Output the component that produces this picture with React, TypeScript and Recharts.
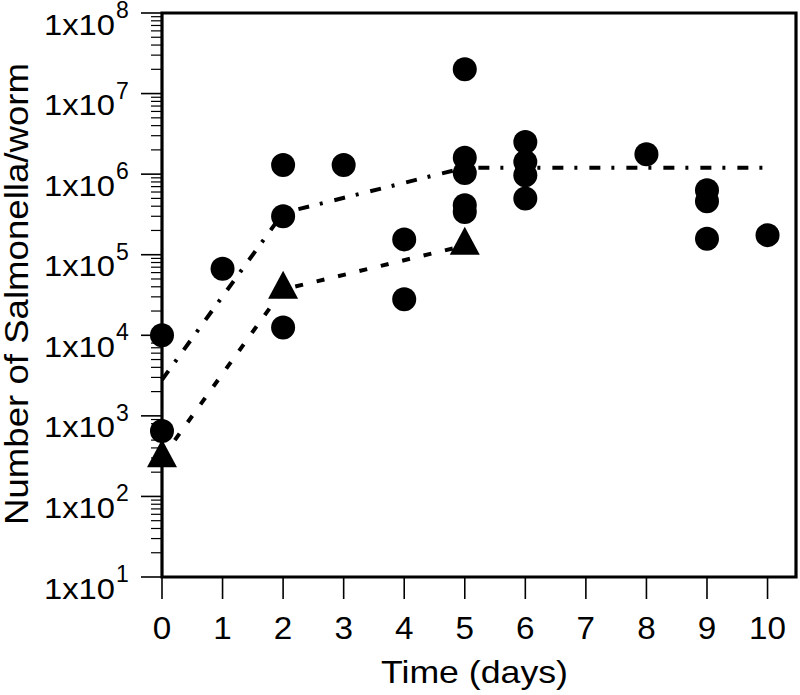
import React from 'react';
import { ComposedChart, Scatter, XAxis, YAxis, ReferenceArea } from 'recharts';

// ---- data ----
const circleDays = [0, 0, 1, 2, 2, 2, 3, 4, 4, 5, 5, 5, 5, 5, 6, 6, 6, 6, 8, 9, 9, 9, 10];
const circleCounts = [
  1.0e4, 6.5e2, 6.7e4, 1.3e6, 3.0e5, 1.25e4, 1.3e6, 1.55e5, 2.8e4, 2.0e7, 1.6e6, 1.03e6,
  4.1e5, 3.4e5, 2.5e6, 1.42e6, 9.7e5, 5.0e5, 1.77e6, 6.3e5, 4.6e5, 1.58e5, 1.75e5,
];
const triangleDays = [0, 2, 5];
const triangleCounts = [3.0e2, 3.7e4, 1.3e5];
const dashDotDays = [0, 2, 5, 10];
const dashDotCounts = [2.8e3, 3.3e5, 1.2e6, 1.2e6];
const xTicks = [0, 1, 2, 3, 4, 5, 6, 7, 8, 9, 10];
const yExponents = [1, 2, 3, 4, 5, 6, 7, 8];
const yMinorMultipliers = [2, 3, 4, 5, 6, 7, 8, 9];
const xTitle = 'Time (days)';
const yTitle = 'Number of Salmonella/worm';

const circles = circleDays.map((d, i) => ({ day: d, count: circleCounts[i] }));
const triangles = triangleDays.map((d, i) => ({ day: d, count: triangleCounts[i] }));
const dashDot = dashDotDays.map((d, i) => ({ day: d, count: dashDotCounts[i] }));

const yTicks: number[] = [];
yExponents.forEach((e, idx) => {
  yTicks.push(Math.pow(10, e));
  if (idx < yExponents.length - 1) {
    yMinorMultipliers.forEach((m) => yTicks.push(m * Math.pow(10, e)));
  }
});
yTicks.sort((a, b) => a - b);

const FONT = '"Liberation Sans", Arial, Helvetica, sans-serif';

const YTick = (props: any) => {
  const { x, y, payload } = props;
  const v = payload.value;
  const ex = Math.log10(v);
  const isMajor = Math.abs(ex - Math.round(ex)) < 1e-6;
  if (!isMajor) {
    return <line x1={x - 11} x2={x} y1={y} y2={y} stroke="#000" strokeWidth={1.2} />;
  }
  return (
    <g>
      <line x1={x - 21} x2={x} y1={y} y2={y} stroke="#000" strokeWidth={1.6} />
      <text
        x={x - 118}
        y={y + 21.5}
        fontFamily={FONT}
        fontSize={30}
        fill="#000"
        textLength={71}
        lengthAdjust="spacingAndGlyphs"
      >
        1x10
      </text>
      <text x={x - 46} y={y + 5} fontFamily={FONT} fontSize={23} fill="#000">
        {Math.round(ex)}
      </text>
    </g>
  );
};

const XTick = (props: any) => {
  const { x, y, payload } = props;
  const s = String(payload.value);
  return (
    <g>
      <line x1={x} x2={x} y1={y} y2={y + 22} stroke="#000" strokeWidth={1.6} />
      <text
        x={x}
        y={y + 62}
        textAnchor="middle"
        fontFamily={FONT}
        fontSize={30.5}
        fill="#000"
        textLength={s.length * 18.5}
        lengthAdjust="spacingAndGlyphs"
      >
        {s}
      </text>
    </g>
  );
};

const XTitle = () => (
  <text
    x={474.5}
    y={683}
    textAnchor="middle"
    fontFamily={FONT}
    fontSize={32}
    fill="#000"
    textLength={187}
    lengthAdjust="spacingAndGlyphs"
  >
    {xTitle}
  </text>
);

const YTitle = () => (
  <text
    x={28}
    y={294}
    transform="rotate(-90, 28, 294)"
    textAnchor="middle"
    fontFamily={FONT}
    fontSize={34}
    fill="#000"
    textLength={462}
    lengthAdjust="spacingAndGlyphs"
  >
    {yTitle}
  </text>
);

const CircleShape = (props: any) => <circle cx={props.cx} cy={props.cy} r={12} fill="#000" />;

const TriangleShape = (props: any) => {
  const { cx, cy } = props;
  const w = 30;
  const h = 28;
  const d = `M${cx},${cy - (2 * h) / 3} L${cx + w / 2},${cy + h / 3} L${cx - w / 2},${cy + h / 3} Z`;
  return <path d={d} fill="#000" />;
};

const NoShape = () => <g />;

export default function App() {
  return (
    <div style={{ position: 'absolute', left: 0, top: 0, background: '#fff' }}>
      <ComposedChart
        width={800}
        height={695}
        margin={{ top: 13, right: 4, bottom: 0, left: 0 }}
      >
        <XAxis
          dataKey="day"
          type="number"
          domain={[0, 10.47]}
          ticks={xTicks}
          interval={0}
          tickSize={0}
          tickMargin={0}
          height={118}
          axisLine={false}
          tickLine={false}
          tick={<XTick />}
          label={<XTitle />}
        />
        <YAxis
          dataKey="count"
          type="number"
          scale="log"
          domain={[10, 1e8]}
          ticks={yTicks}
          interval={0}
          tickSize={0}
          tickMargin={0}
          width={162}
          axisLine={false}
          tickLine={false}
          tick={<YTick />}
          label={<YTitle />}
        />
        <ReferenceArea
          x1={0}
          x2={10.47}
          y1={10}
          y2={1e8}
          fill="none"
          fillOpacity={0}
          stroke="#000"
          strokeWidth={3.2}
          ifOverflow="visible"
        />
        <Scatter
          data={dashDot}
          dataKey="count"
          shape={<NoShape />}
          line={{ stroke: '#000', strokeWidth: 4, strokeDasharray: '11 11 3 12' }}
          lineType="joint"
          isAnimationActive={false}
        />
        <Scatter
          data={triangles}
          dataKey="count"
          shape={<TriangleShape />}
          line={{ stroke: '#000', strokeWidth: 4, strokeDasharray: '8 14' }}
          lineType="joint"
          isAnimationActive={false}
        />
        <Scatter
          data={circles}
          dataKey="count"
          shape={<CircleShape />}
          isAnimationActive={false}
        />
      </ComposedChart>
    </div>
  );
}
